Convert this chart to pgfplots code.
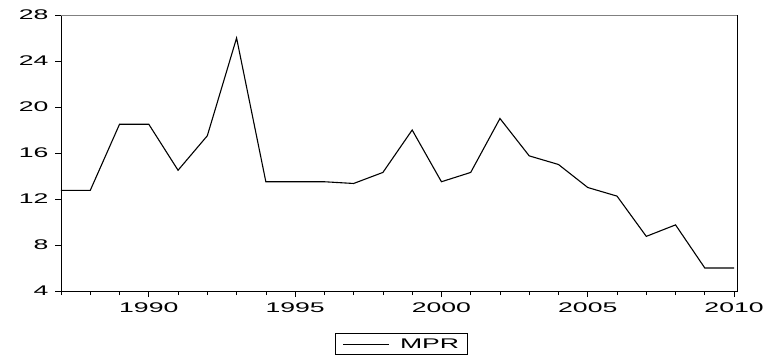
\documentclass[border=0pt]{standalone}
\usepackage{fontspec}
\setmainfont[FakeStretch=1.9]{Liberation Sans}
\usepackage{pgfplots}
\pgfplotsset{compat=1.18}
\begin{document}
\begin{tikzpicture}
\begin{axis}[
  name=ax,
  scale only axis,
  width=676bp, height=276bp,
  xmin=1987, xmax=2010.1,
  ymin=4, ymax=28,
  xtick={1990,1995,2000,2005,2010},
  minor xtick={1987,...,2010},
  ytick={4,8,12,16,20,24,28},
  xtick pos=bottom, ytick pos=left,
  tick align=outside,
  major tick length=6bp,
  minor tick length=4bp,
  tick style={black, line width=0.6bp},
  axis line style={line width=0.9bp},
  /pgf/number format/assume math mode=true,
  /pgf/number format/1000 sep={},
  ticklabel style={font=\fontsize{14bp}{16bp}\selectfont},
  yticklabel style={xshift=-3bp},
  xticklabel style={yshift=-2bp},
  legend style={at={(0.503,-0.192)}, anchor=center, draw=black, line width=0.6bp,
    font=\fontsize{14bp}{16bp}\selectfont, inner xsep=6bp, inner ysep=3bp},
  legend image code/.code={\draw[#1, line width=0.9bp] (0bp,0bp) -- (46bp,0bp); \path (-2bp,0bp) (54bp,0bp);},
]
\addplot[black, line width=1.1bp] coordinates {
(1987,12.75) (1988,12.75) (1989,18.5) (1990,18.5) (1991,14.5) (1992,17.5)
(1993,26) (1994,13.5) (1995,13.5) (1996,13.5) (1997,13.35) (1998,14.31)
(1999,18) (2000,13.5) (2001,14.31) (2002,19) (2003,15.75) (2004,15)
(2005,13) (2006,12.25) (2007,8.75) (2008,9.75) (2009,6) (2010,6)
};
\addlegendentry{MPR}
\end{axis}
\draw[gray, line width=0.9bp] (ax.north west) -- (ax.north east);
\useasboundingbox ([shift={(-61bp,-70bp)}]ax.south west) rectangle ([shift={(31bp,15bp)}]ax.north east);
\end{tikzpicture}
\end{document}
